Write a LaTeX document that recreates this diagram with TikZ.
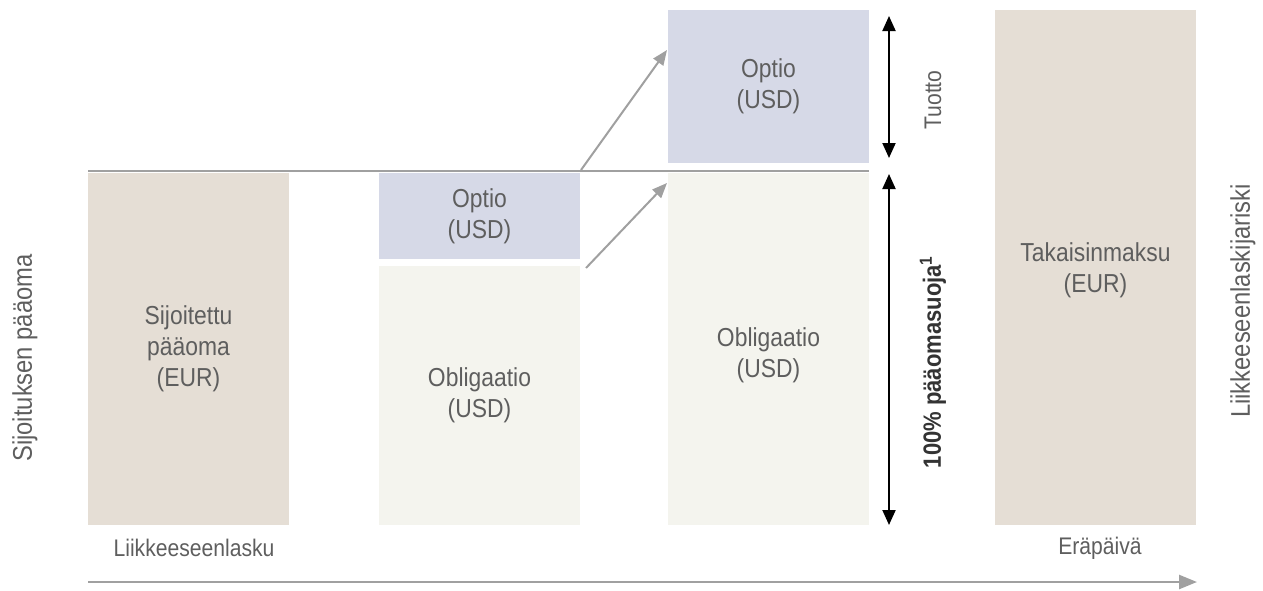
\documentclass[tikz,border=0pt]{standalone}
\usepackage{fontspec}
\setmainfont[FakeStretch=0.88]{Liberation Sans}
\usetikzlibrary{arrows.meta}
\definecolor{beige}{HTML}{E5DED5}
\definecolor{lav}{HTML}{D6D9E7}
\definecolor{pale}{HTML}{F4F4EE}
\definecolor{txt}{HTML}{5E5E5E}
\definecolor{lgray}{HTML}{A0A0A0}
\tikzset{
  box/.style={anchor=north west, inner sep=0pt, outer sep=0pt, draw=none},
  boxtext/.style={text=txt, align=center, font=\fontsize{26}{31}\selectfont},
  sidetext/.style={text=txt, rotate=90, font=\fontsize{27}{30}\selectfont},
  foottext/.style={text=txt, font=\fontsize{24}{28}\selectfont},
  grayarrow/.style={draw=lgray, line width=2pt, -{Triangle[length=15pt,width=12pt]}},
  dblarrow/.style={draw=black, line width=2pt, {Triangle[length=15pt,width=13pt]}-{Triangle[length=15pt,width=13pt]}},
}
\begin{document}
\begin{tikzpicture}[x=1pt,y=-1pt]
\useasboundingbox (0,0) rectangle (1263,590);
% boxes
\node[box, fill=beige, minimum width=201pt, minimum height=352pt] (b1) at (88,173) {};
\node[box, fill=lav, minimum width=201pt, minimum height=86pt] (b2t) at (379,173) {};
\node[box, fill=pale, minimum width=201pt, minimum height=259pt] (b2b) at (379,266) {};
\node[box, fill=lav, minimum width=201pt, minimum height=153pt] (b3t) at (668,10) {};
\node[box, fill=pale, minimum width=201pt, minimum height=352pt] (b3b) at (668,173) {};
\node[box, fill=beige, minimum width=201pt, minimum height=515pt] (b4) at (995,10) {};
% texts
\node[boxtext] (t1) at (b1.center) {Sijoitettu\\pääoma\\(EUR)};
\node[boxtext] (t2t) at (b2t.center) {Optio\\(USD)};
\node[boxtext] (t2b) at (b2b.center) {Obligaatio\\(USD)};
\node[boxtext] (t3t) at (b3t.center) {Optio\\(USD)};
\node[boxtext] (t3b) at ([yshift=-6pt]b3b.center) {Obligaatio\\(USD)};
\node[boxtext] (t4) at ([yshift=-3pt]b4.center) {Takaisinmaksu\\(EUR)};
% baseline
\coordinate (lineL) at (88,171);
\coordinate (lineR) at (869,171);
\draw[lgray, line width=2.2pt] (lineL) -- (lineR);
% transfer arrows
\coordinate (a1s) at (581,170);
\coordinate (a1e) at (667,50);
\coordinate (a2s) at (586,268);
\coordinate (a2e) at (667,183);
\draw[grayarrow] (a1s) -- (a1e);
\draw[grayarrow] (a2s) -- (a2e);
% double arrows
\coordinate (d1t) at (889,16);
\coordinate (d1b) at (889,158);
\coordinate (d2t) at (889,174);
\coordinate (d2b) at (889,525);
\draw[dblarrow] (d1t) -- (d1b);
\draw[dblarrow] (d2t) -- (d2b);
\node[sidetext, font=\fontsize{24}{28}\selectfont] (tuotto) at (933,100) {Tuotto};
\node[rotate=90, text=black!80, font=\bfseries\fontsize{25}{28}\selectfont] (suoja) at (933,362) {100\% pääomasuoja\textsuperscript{1}};
% side labels
\node[sidetext] (left) at (25,358) {Sijoituksen pääoma};
\node[sidetext] (right) at (1243,301) {Liikkeeseenlaskijariski};
% foot
\node[foottext] (f1) at (194,548) {Liikkeeseenlasku};
\node[foottext] (f2) at (1100,548) {Eräpäivä};
\coordinate (tL) at (88,582);
\coordinate (tR) at (1197,582);
\draw[draw=lgray, line width=2.5pt, -{Triangle[length=18pt,width=14pt]}] (tL) -- (tR);
\end{tikzpicture}
\end{document}
